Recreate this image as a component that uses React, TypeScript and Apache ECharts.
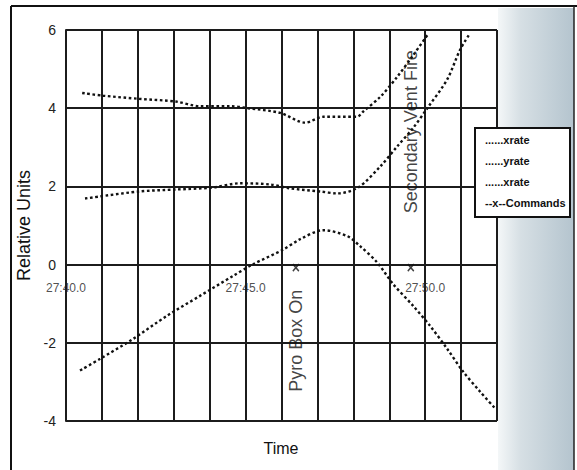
import React, { useEffect, useRef } from "react";
import * as echarts from "echarts";

// seconds after 27:40.0
const xrateTopT = [0.45, 1.03, 2.03, 3.06, 3.73, 4.57, 5.07, 5.96, 6.66, 7.16, 8.1, 8.27, 8.75, 9.22, 9.67, 10.06];
const xrateTopV = [4.39, 4.32, 4.24, 4.17, 4.05, 4.05, 4.0, 3.88, 3.63, 3.78, 3.78, 3.91, 4.29, 4.8, 5.36, 5.87];

const yrateT = [0.53, 2.03, 3.06, 4.07, 4.85, 5.68, 6.24, 7.08, 7.55, 8.13, 8.75, 9.22, 9.67, 10.06, 10.61, 10.97, 11.25];
const yrateV = [1.69, 1.87, 1.92, 1.97, 2.08, 2.05, 1.95, 1.87, 1.82, 1.97, 2.51, 3.02, 3.5, 4.0, 4.73, 5.49, 5.92];

const xrateLowT = [0.39, 0.95, 1.87, 2.81, 3.73, 4.65, 5.21, 6.04, 6.52, 7.16, 7.83, 8.19, 8.66, 9.11, 9.67, 10.14, 10.61, 11.06, 11.53, 11.95];
const xrateLowV = [-2.71, -2.41, -1.9, -1.31, -0.8, -0.29, 0.01, 0.38, 0.65, 0.88, 0.73, 0.47, 0.06, -0.5, -1.06, -1.57, -2.15, -2.74, -3.25, -3.68];

const commandT = [6.4, 9.6];
const commandV = [0, 0];
const commandText = ["Pyro Box On", "Secondary Vent Fire"];
const commandTextV = [-1.95, 3.4];

const timeTickT = [0, 5, 10];
const timeTickLabels = ["27:40.0", "27:45.0", "27:50.0"];

const legendLabels = ["......xrate", "......yrate", "......xrate", "--x--Commands"];

const X_MIN = 0;
const X_MAX = 12;
const Y_MIN = -4;
const Y_MAX = 6;
const Y_STEP = 2;

const FONT = "'Liberation Sans', Arial, Helvetica, sans-serif";

const zip = (t: number[], v: number[]) => t.map((x, i) => [x, v[i]]);

export default function App() {
  const ref = useRef<HTMLDivElement>(null);
  useEffect(() => {
    if (!ref.current) return;
    const chart = echarts.init(ref.current, undefined, { renderer: "svg" });
    const lineStyle = { color: "#111", width: 2.4, type: [2.6, 2.6] as any };
    const gridLine = { color: "#1c1c1c", width: 2 };
    chart.setOption({
      animation: false,
      backgroundColor: "#ffffff",
      grid: { left: 66, right: 80, top: 30, bottom: 49 },
      xAxis: {
        type: "value",
        min: X_MIN,
        max: X_MAX,
        interval: 1,
        axisLine: { show: true, lineStyle: gridLine },
        axisTick: { show: false },
        splitLine: { show: true, lineStyle: gridLine },
        axisLabel: { show: false },
      },
      yAxis: {
        type: "value",
        min: Y_MIN,
        max: Y_MAX,
        interval: Y_STEP,
        name: "Relative Units",
        nameLocation: "middle",
        nameGap: 28,
        nameTextStyle: { color: "#111", fontFamily: FONT, fontSize: 18 },
        axisLine: { show: true, onZero: false, lineStyle: gridLine },
        axisTick: { show: false },
        splitLine: { show: true, lineStyle: gridLine },
        axisLabel: { color: "#222", fontFamily: FONT, fontSize: 14, margin: 10 },
      },
      series: [
        {
          name: "xrate",
          type: "line",
          data: zip(xrateTopT, xrateTopV),
          smooth: 0.3,
          showSymbol: false,
          lineStyle,
          z: 5,
        },
        {
          name: "yrate",
          type: "line",
          data: zip(yrateT, yrateV),
          smooth: 0.3,
          showSymbol: false,
          lineStyle,
          z: 5,
        },
        {
          name: "xrate2",
          type: "line",
          data: zip(xrateLowT, xrateLowV),
          smooth: 0.3,
          showSymbol: false,
          lineStyle,
          z: 5,
        },
        {
          name: "Commands",
          type: "scatter",
          data: zip(commandT, commandV),
          symbol: "path://M0,0L8,8M8,0L0,8",
          symbolSize: [6, 7],
          symbolOffset: [0, 3],
          itemStyle: { color: "transparent", borderColor: "#111", borderWidth: 1.5 },
          z: 6,
        },
        {
          name: "CommandText",
          type: "scatter",
          data: commandT.map((t, i) => ({ value: [t, commandTextV[i]], label: { formatter: commandText[i] } })),
          symbolSize: 1,
          itemStyle: { color: "transparent" },
          label: {
            show: true,
            position: "inside",
            rotate: 90,
            color: "#111",
            fontFamily: FONT,
            fontSize: 18,
          },
          z: 4,
        },
        {
          name: "TimeTicks",
          type: "scatter",
          data: timeTickT.map((t, i) => ({ value: [t, 0], label: { formatter: timeTickLabels[i] } })),
          symbolSize: 1,
          itemStyle: { color: "transparent" },
          label: {
            show: true,
            position: "bottom",
            distance: 17,
            color: "#222",
            fontFamily: FONT,
            fontSize: 12,
          },
          z: 4,
        },
      ],
      graphic: [
        {
          type: "rect",
          z: -10,
          shape: { x: 498, y: 8, width: 76, height: 462 },
          style: {
            fill: new echarts.graphic.LinearGradient(0, 0, 1, 0, [
              { offset: 0, color: "#f4f7f8" },
              { offset: 0.3, color: "#d6dfe4" },
              { offset: 1, color: "#b4c4ce" },
            ]),
          },
        },
        { type: "line", z: 50, shape: { x1: 11, y1: 6, x2: 577, y2: 6 }, style: { stroke: "#111", lineWidth: 2 } },
        { type: "line", z: 50, shape: { x1: 11, y1: 6, x2: 11, y2: 470 }, style: { stroke: "#111", lineWidth: 2 } },
        { type: "line", z: 50, shape: { x1: 574, y1: 6, x2: 574, y2: 470 }, style: { stroke: "#222", lineWidth: 1.5 } },
        {
          type: "text",
          z: 50,
          x: 281,
          y: 448,
          style: { text: "Time", fill: "#111", font: `16px ${FONT}`, align: "center", verticalAlign: "middle" },
        },
        {
          type: "rect",
          z: 100,
          shape: { x: 475, y: 128, width: 95, height: 89 },
          style: { fill: "#fff", stroke: "#111", lineWidth: 2 },
        },
        ...legendLabels.map((txt, i) => ({
          type: "text",
          z: 101,
          x: 485,
          y: 140 + i * 21,
          style: { text: txt, fill: "#111", font: `bold 11px ${FONT}`, align: "left", verticalAlign: "middle" },
        })),
      ],
    });
    return () => chart.dispose();
  }, []);
  return <div ref={ref} style={{ position: "fixed", left: 0, top: 0, width: 577, height: 470 }} />;
}
